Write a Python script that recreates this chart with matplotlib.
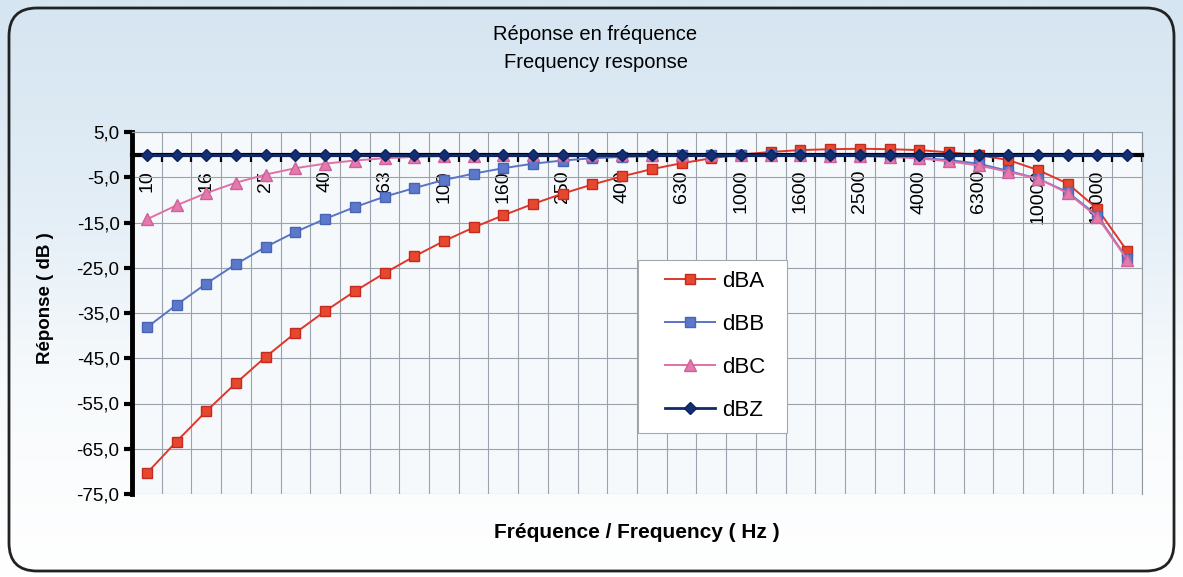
import matplotlib
matplotlib.use('Agg')
import matplotlib.pyplot as plt
import numpy as np
from matplotlib.patches import FancyBboxPatch, Rectangle
from matplotlib.colors import LinearSegmentedColormap

plt.rcParams['font.family'] = ['Liberation Sans', 'DejaVu Sans']

# ---- data ----
freq_labels = ['10', '12.5', '16', '20', '25', '31.5', '40', '50', '63', '80',
               '100', '125', '160', '200', '250', '315', '400', '500', '630', '800',
               '1000', '1250', '1600', '2000', '2500', '3150', '4000', '5000', '6300', '8000',
               '10000', '12500', '16000', '20000']
dBA = [-70.4, -63.4, -56.7, -50.5, -44.7, -39.4, -34.6, -30.2, -26.2, -22.5,
       -19.1, -16.1, -13.4, -10.9, -8.6, -6.6, -4.8, -3.2, -1.9, -0.8,
       0.0, 0.6, 1.0, 1.2, 1.3, 1.2, 1.0, 0.5, -0.1, -1.2,
       -3.4, -6.4, -12.0, -21.3]
dBB = [-38.2, -33.2, -28.5, -24.2, -20.4, -17.1, -14.2, -11.6, -9.3, -7.4,
       -5.6, -4.2, -3.0, -2.0, -1.3, -0.8, -0.5, -0.3, -0.1, 0.0,
       0.0, 0.0, 0.0, -0.1, -0.2, -0.4, -0.7, -1.2, -2.0, -3.6,
       -5.3, -8.3, -13.5, -23.0]
dBC = [-14.3, -11.2, -8.5, -6.2, -4.4, -3.0, -2.0, -1.3, -0.8, -0.5,
       -0.3, -0.2, -0.1, 0.0, 0.0, 0.0, 0.0, 0.0, 0.0, 0.0,
       0.0, 0.0, -0.1, -0.2, -0.3, -0.5, -0.8, -1.5, -2.4, -3.8,
       -5.3, -8.5, -13.8, -23.2]
dBZ = [0.0, 0.0, 0.0, 0.0, 0.0, 0.0, 0.0, 0.0, 0.0, 0.0,
       0.0, 0.0, 0.0, 0.0, 0.0, 0.0, 0.0, 0.0, 0.0, 0.0,
       0.0, 0.0, 0.0, 0.0, 0.0, 0.0, 0.0, 0.0, 0.0, 0.0,
       0.0, 0.0, 0.0, 0.0]
y_ticks = [5, -5, -15, -25, -35, -45, -55, -65, -75]

W, H = 1183, 577
fig = plt.figure(figsize=(W / 100, H / 100), dpi=100)

# background with rounded frame
bg = fig.add_axes([0, 0, 1, 1], zorder=-10)
grad = np.linspace(0, 1, 256).reshape(-1, 1)
cmap = LinearSegmentedColormap.from_list('bg', ['#d5e5f1', '#e2edf6', '#f7fafc', '#ffffff'])
bg.imshow(grad, aspect='auto', cmap=cmap, extent=[0, W, H, 0])
bg.set_xlim(0, W)
bg.set_ylim(H, 0)
frame = FancyBboxPatch((9, 8), W - 18, H - 14, boxstyle='round,pad=0,rounding_size=28',
                       fill=False, edgecolor='#222222', linewidth=2.0)
bg.add_patch(frame)
bg.axis('off')

L, R, T, B = 132, 1142, 132, 494
ax = fig.add_axes([L / W, 1 - B / H, (R - L) / W, (B - T) / H])
ax.set_facecolor('#f6f9fc')
x = np.arange(len(freq_labels))

ax.plot(x, dBA, color='#e0362a', lw=1.4, marker='s', ms=7, mfc='#e5482f', mec='#c42a1e', zorder=3, label='dBA')
ax.plot(x, dBB, color='#5a74c4', lw=1.4, marker='s', ms=7, mfc='#5b78cc', mec='#4a64b4', zorder=3, label='dBB')
ax.plot(x, dBC, color='#e070a6', lw=1.4, marker='^', ms=8, mfc='#e27aae', mec='#d0609a', zorder=3, label='dBC')
ax.plot(x, dBZ, color='#102a6c', lw=2.0, marker='D', ms=6.5, mfc='#123070', mec='#0c2260', zorder=4, label='dBZ')

ax.set_xlim(-0.5, len(freq_labels) - 0.5)
ax.set_ylim(-75, 5)
ax.set_yticks(y_ticks)
ax.set_yticklabels([f"{v:.1f}".replace('.', ',') for v in y_ticks])
ax.tick_params(axis='y', length=6, width=3, direction='out', pad=3, labelsize=13.5)

ax.set_xticks(x[::2])
ax.set_xticklabels(freq_labels[::2])
ax.set_xticks(np.arange(-0.5, len(freq_labels), 1), minor=True)
ax.tick_params(axis='x', which='major', length=0, pad=11, labelrotation=90, labelsize=14)
ax.tick_params(axis='x', which='minor', length=5, width=1.6, direction='out', color='black')
for lab in ax.get_xticklabels():
    lab.set_verticalalignment('top')
    lab.set_horizontalalignment('center')

ax.spines['bottom'].set_position(('data', 0))
ax.spines['bottom'].set_linewidth(3)
ax.spines['bottom'].set_zorder(3.5)
ax.spines['left'].set_linewidth(3.5)
for s in ('top', 'right'):
    ax.spines[s].set_color('#9098a0')
    ax.spines[s].set_linewidth(0.8)

ax.grid(which='minor', axis='x', color='#9aa3ad', lw=0.8)
ax.grid(which='major', axis='y', color='#9aa3ad', lw=0.8)
ax.set_axisbelow(True)


def to_ax(px, py):
    return (px - L) / (R - L), 1 - (py - T) / (B - T)


# legend box (pixel layout of the reference)
bx0, by0 = to_ax(638, 433)
bx1, by1 = to_ax(787, 260)
ax.add_patch(Rectangle((bx0, by0), bx1 - bx0, by1 - by0, transform=ax.transAxes,
                       facecolor='white', edgecolor='#a8a8a8', lw=0.8, zorder=5))
leg = ax.legend(loc='upper left', bbox_to_anchor=to_ax(665, 271),
                borderaxespad=0, frameon=False, fontsize=16,
                handlelength=2.25, labelspacing=0.99, borderpad=0, handletextpad=0.32)
leg.set_zorder(6)

fig.text(595 / W, 1 - 35 / H, 'Réponse en fréquence', ha='center', va='center', fontsize=14.5)
fig.text(596 / W, 1 - 62 / H, 'Frequency response', ha='center', va='center', fontsize=14.5)
fig.text(46 / W, 1 - 298 / H, 'Réponse ( dB )', rotation=90, ha='center', va='center',
         fontsize=13.5, fontweight='bold')
fig.text(637 / W, 1 - 533 / H, 'Fréquence / Frequency ( Hz )', ha='center', va='center',
         fontsize=15, fontweight='bold')

fig.savefig('out.png', dpi=100)
